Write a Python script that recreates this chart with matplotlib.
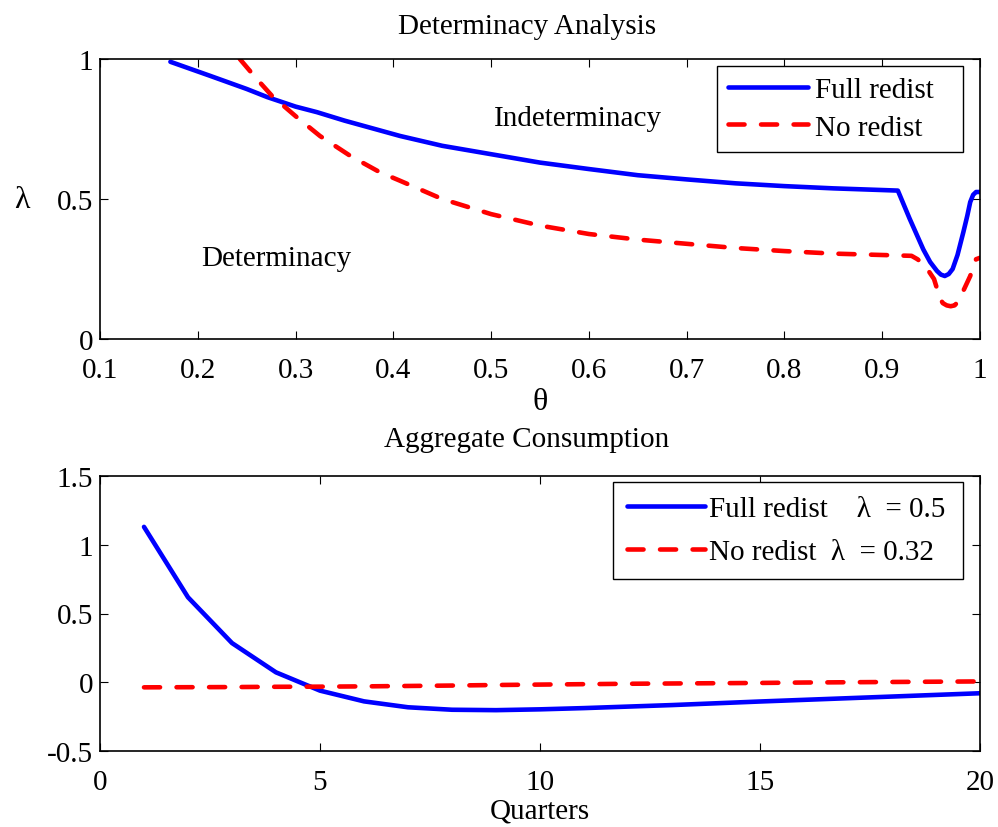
import matplotlib
matplotlib.use("Agg")
import matplotlib.pyplot as plt

plt.rcParams['font.family'] = ['Liberation Serif', 'DejaVu Serif']

# ---- Top panel data: determinacy frontier ----
theta_full = [0.172, 0.2125, 0.25, 0.271, 0.3, 0.322, 0.35, 0.407, 0.45, 0.5, 0.55, 0.6,
              0.65, 0.7, 0.75, 0.8, 0.85, 0.9, 0.916, 0.922, 0.928, 0.935, 0.942, 0.949,
              0.956, 0.960, 0.964, 0.968, 0.972, 0.977, 0.983, 0.987, 0.990, 0.993,
              0.996, 1.0]
lambda_full = [0.99, 0.94, 0.893, 0.864, 0.83, 0.81, 0.78, 0.725, 0.69, 0.66, 0.63, 0.607,
               0.585, 0.57, 0.556, 0.546, 0.538, 0.532, 0.530, 0.48, 0.43, 0.375, 0.32,
               0.275, 0.243, 0.230, 0.225, 0.232, 0.25, 0.30, 0.382, 0.44, 0.489, 0.515,
               0.525, 0.525]

theta_no = [0.243, 0.26, 0.276, 0.301, 0.325, 0.356, 0.386, 0.407, 0.45, 0.5, 0.55, 0.6,
            0.65, 0.7, 0.75, 0.8, 0.85, 0.9, 0.93, 0.936, 0.942, 0.948, 0.953, 0.956,
            0.959, 0.962, 0.966, 0.970, 0.974, 0.978, 0.982, 0.986, 0.990, 0.993,
            0.996, 1.0]
lambda_no = [1.0, 0.93, 0.868, 0.793, 0.725, 0.654, 0.596, 0.565, 0.50, 0.446, 0.405, 0.375,
             0.355, 0.34, 0.325, 0.314, 0.305, 0.30, 0.297, 0.285, 0.268, 0.24, 0.214,
             0.18, 0.145, 0.128, 0.12, 0.117, 0.12, 0.135, 0.165, 0.195, 0.225, 0.26,
             0.285, 0.29]

# ---- Bottom panel data: aggregate consumption IRF ----
quarters = list(range(1, 21))
cons_full = [1.13, 0.618, 0.285, 0.072, -0.061, -0.139, -0.182, -0.200, -0.203, -0.197,
             -0.188, -0.177, -0.166, -0.153, -0.140, -0.128, -0.116, -0.104, -0.092, -0.080]
cons_no = [-0.037, -0.036, -0.035, -0.033, -0.032, -0.030, -0.027, -0.024, -0.020, -0.017,
           -0.014, -0.011, -0.009, -0.007, -0.005, -0.002, 0.0, 0.002, 0.004, 0.006]

top_xticks = [0.1, 0.2, 0.3, 0.4, 0.5, 0.6, 0.7, 0.8, 0.9, 1.0]
top_xlabels = ['0.1', '0.2', '0.3', '0.4', '0.5', '0.6', '0.7', '0.8', '0.9', '1']
top_yticks = [0, 0.5, 1]
top_ylabels = ['0', '0.5', '1']
bot_xticks = [0, 5, 10, 15, 20]
bot_xlabels = ['0', '5', '10', '15', '20']
bot_yticks = [-0.5, 0, 0.5, 1, 1.5]
bot_ylabels = ['-0.5', '0', '0.5', '1', '1.5']

W, H = 998, 828
fig = plt.figure(figsize=(W / 100, H / 100), dpi=100)
FS = 21

def px_axes(l, t, r, b):
    return fig.add_axes([l / W, 1 - b / H, (r - l) / W, (b - t) / H])

ax1 = px_axes(100, 60, 980, 340)
ax2 = px_axes(100, 477, 980, 752)

LW = 3.3
DASH = (3.5, 3.6)
line_kw = dict(solid_capstyle='round', dash_capstyle='round', solid_joinstyle='round')

for ax in (ax1, ax2):
    ax.tick_params(direction='in', top=True, right=True, length=6, width=0.8,
                   labelsize=FS)
    ax.tick_params(axis='x', pad=13)
    ax.tick_params(axis='y', pad=5)
    for s in ax.spines.values():
        s.set_linewidth(1.2)
        s.set_color('black')

# Top panel
ax1.plot(theta_full, lambda_full, color='#0000ff', lw=LW, label='Full redist', **line_kw)
ax1.plot(theta_no, lambda_no, color='#ff0000', lw=LW, dashes=DASH, label='No redist', **line_kw)
ax1.set_xlim(0.1, 1.0)
ax1.set_ylim(0, 1)
ax1.set_xticks(top_xticks)
ax1.set_xticklabels(top_xlabels)
ax1.set_yticks(top_yticks)
ax1.set_yticklabels(top_ylabels)
ax1.text(0.589, 0.79, 'Indeterminacy', fontsize=FS, ha='center', va='center')
ax1.text(0.28, 0.29, 'Determinacy', fontsize=FS, ha='center', va='center')
leg1 = ax1.legend(loc='upper left',
                  bbox_to_anchor=(717 / W, 1 - 151.7 / H, (963 - 717) / W, (151.7 - 66.7) / H),
                  mode='expand', bbox_transform=fig.transFigure, borderaxespad=0,
                  fontsize=FS, frameon=True, fancybox=False, edgecolor='black',
                  framealpha=1, handlelength=2.74, handletextpad=0.25, borderpad=0.38,
                  labelspacing=0.38)
leg1.get_frame().set_linewidth(1.0)

# Bottom panel
ax2.plot(quarters, cons_full, color='#0000ff', lw=LW, label='Full redist    λ  = 0.5', **line_kw)
ax2.plot(quarters, cons_no, color='#ff0000', lw=LW, dashes=DASH,
         label='No redist  λ  = 0.32', **line_kw)
ax2.set_xlim(0, 20)
ax2.set_ylim(-0.5, 1.5)
ax2.set_xticks(bot_xticks)
ax2.set_xticklabels(bot_xlabels)
ax2.set_yticks(bot_yticks)
ax2.set_yticklabels(bot_ylabels)
leg2 = ax2.legend(loc='upper left',
                  bbox_to_anchor=(613 / W, 1 - 579 / H, (963 - 613) / W, (579 - 482.7) / H),
                  mode='expand', bbox_transform=fig.transFigure, borderaxespad=0,
                  fontsize=FS, frameon=True, fancybox=False, edgecolor='black',
                  framealpha=1, handlelength=2.67, handletextpad=0.15, borderpad=0.47,
                  labelspacing=0.58)
leg2.get_frame().set_linewidth(1.0)

# Titles and labels
fig.text(527 / W, 1 - 27 / H, 'Determinacy Analysis', fontsize=FS, ha='center', va='center')
fig.text(527 / W, 1 - 440 / H, 'Aggregate Consumption', fontsize=FS, ha='center', va='center')
fig.text(540 / W, 1 - 403 / H, 'θ', fontsize=FS + 2, ha='center', va='center')
fig.text(540 / W, 1 - 812 / H, 'Quarters', fontsize=FS, ha='center', va='center')
fig.text(22 / W, 1 - 201 / H, 'λ', fontsize=FS + 2, ha='center', va='center')

fig.savefig('out.png', dpi=100, facecolor='white')
